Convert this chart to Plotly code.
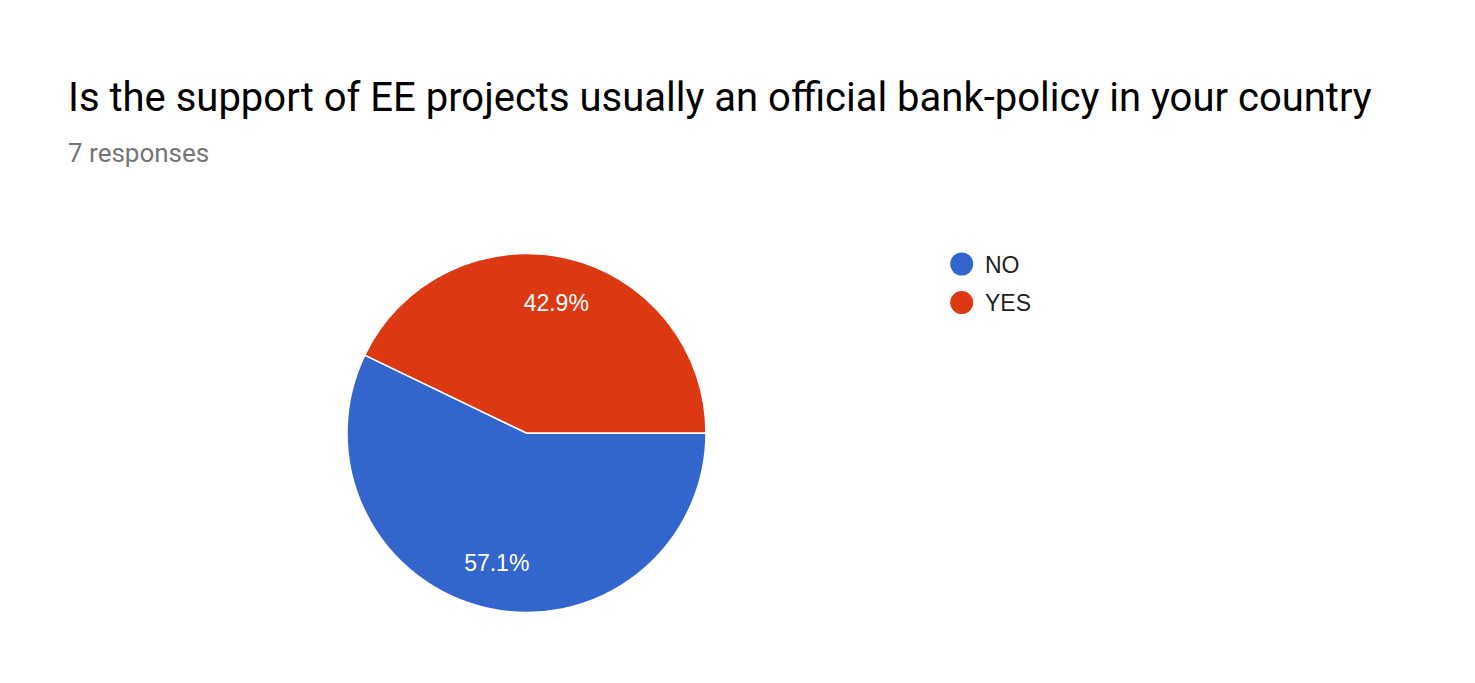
import plotly.graph_objects as go

labels = ["NO", "YES"]
values = [4, 3]
colors = ["#3366CC", "#DC3912"]
title_text = "Is the support of EE projects usually an official bank-policy in your country"
subtitle_text = "7 responses"

W, H = 1475, 683
OFF = 8  # page body margin in the browser
pie_dom = dict(x=[(347 - OFF) / W, (706 - OFF) / W],
               y=[(H - (613 - OFF)) / H, (H - (253 - OFF)) / H])

fig = go.Figure()

# slices
fig.add_trace(go.Pie(
    labels=labels, values=values,
    marker=dict(colors=colors, line=dict(color="white", width=1.5)),
    sort=False, direction="clockwise", rotation=90,
    textinfo="none", showlegend=False, hoverinfo="label+value+percent",
    domain=pie_dom,
))
# percentage labels (same data, transparent ring so labels sit further out)
fig.add_trace(go.Pie(
    labels=labels, values=values, hole=0.49,
    marker=dict(colors=["rgba(0,0,0,0)"] * len(labels), line=dict(width=0)),
    sort=False, direction="clockwise", rotation=90,
    texttemplate="%{percent:.1%}", textposition="inside",
    insidetextorientation="horizontal",
    textfont=dict(family="Arial", size=23, color="white"),
    showlegend=False, hoverinfo="skip",
    domain=pie_dom,
))

# legend drawn as a two-column list: markers and labels
fig.add_trace(go.Scatter(
    x=[0] * len(labels), y=labels, mode="markers",
    marker=dict(size=23, color=colors), cliponaxis=False,
    showlegend=False, hoverinfo="skip", xaxis="x", yaxis="y",
))
fig.add_trace(go.Scatter(
    x=[1] * len(labels), y=labels, mode="text", text=labels,
    textposition="middle right",
    textfont=dict(family="Arial", size=23, color="#222222"),
    cliponaxis=False, showlegend=False, hoverinfo="skip", xaxis="x", yaxis="y2",
))

unit = 23.3          # px between marker column and label column
x0 = 961.7 - OFF     # marker centre
leg_top, leg_bot = 244.7 - OFF, 321.9 - OFF
txt_shift = 3

fig.update_layout(
    width=W, height=H,
    paper_bgcolor="white", plot_bgcolor="rgba(0,0,0,0)",
    margin=dict(l=0, r=0, t=0, b=0),
    font=dict(family="Roboto"),
    annotations=[
        dict(text=title_text, xref="paper", yref="paper",
             x=(66 - OFF) / W, xanchor="left",
             y=1 - (97 - OFF) / H, yanchor="middle", showarrow=False,
             font=dict(family="Roboto", size=40, color="#000000")),
        dict(text=subtitle_text, xref="paper", yref="paper",
             x=(66 - OFF) / W, xanchor="left",
             y=1 - (153 - OFF) / H, yanchor="middle", showarrow=False,
             font=dict(family="Roboto", size=26, color="#757575")),
    ],
    xaxis=dict(domain=[(x0 - unit) / W, (x0 + unit * 4) / W], range=[-1, 4],
               visible=False, fixedrange=True),
    yaxis=dict(domain=[(H - leg_bot) / H, (H - leg_top) / H], range=[1.5, -0.5],
               type="category", visible=False, fixedrange=True),
    yaxis2=dict(domain=[(H - leg_bot - txt_shift) / H, (H - leg_top - txt_shift) / H],
                range=[1.5, -0.5], type="category", visible=False, fixedrange=True,
                anchor="x"),
)

fig.write_html("out.html")
